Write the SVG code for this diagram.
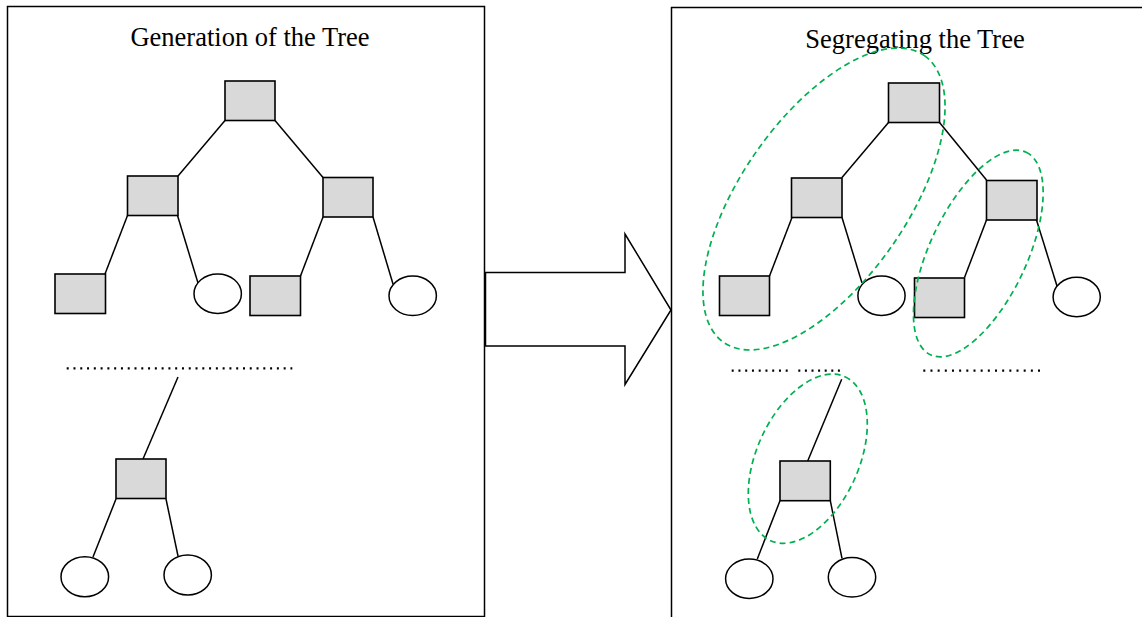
<svg xmlns="http://www.w3.org/2000/svg" width="1142" height="617" viewBox="0 0 1142 617">
  <style>
    .frame { fill: #ffffff; stroke: #000000; stroke-width: 1.5; }
    .sq { fill: #d9d9d9; stroke: #000000; stroke-width: 1.6; }
    .leaf { fill: #ffffff; stroke: #000000; stroke-width: 1.5; }
    .edge { stroke: #000000; stroke-width: 1.5; fill: none; }
    .dots { stroke: #000000; stroke-width: 2.2; fill: none; }
    .group { fill: none; stroke: #00b050; stroke-width: 1.7; stroke-dasharray: 6 4; }
    .title { font-family: "Liberation Serif", "Times New Roman", serif; font-size: 26.5px; fill: #000000; text-anchor: middle; }
  </style>

  <!-- panels -->
  <g id="panel-left">
    <rect class="frame" x="7.5" y="6.5" width="477" height="610"/>
    <text class="title" x="250" y="46">Generation of the Tree</text>
  </g>
  <g id="panel-right">
    <rect class="frame" x="671.5" y="7.5" width="490" height="620"/>
    <text class="title" x="915" y="48">Segregating the Tree</text>
  </g>

  <!-- block arrow between panels -->
  <g id="transition-arrow">
    <polygon class="frame" points="485.5,272.5 625,272.5 625,234 671,310 625,384.5 625,346 485.5,346"/>
  </g>

  <!-- connectors -->
  <g id="connectors">
    <!-- left tree -->
    <line class="edge" x1="225" y1="120.5" x2="178" y2="176"/>
    <line class="edge" x1="275" y1="120.5" x2="323" y2="177.5"/>
    <line class="edge" x1="127.5" y1="215.5" x2="105" y2="274"/>
    <line class="edge" x1="177.5" y1="215.5" x2="198" y2="283"/>
    <line class="edge" x1="323" y1="217" x2="300.5" y2="276"/>
    <line class="edge" x1="373" y1="217" x2="393" y2="284"/>
    <line class="edge" x1="178" y1="377" x2="143" y2="459"/>
    <line class="edge" x1="116" y1="499" x2="93" y2="557"/>
    <line class="edge" x1="166" y1="499" x2="178" y2="556"/>
    <!-- right tree -->
    <line class="edge" x1="888.5" y1="122.5" x2="842" y2="177.5"/>
    <line class="edge" x1="939.5" y1="122.5" x2="986.5" y2="180"/>
    <line class="edge" x1="792" y1="217.5" x2="769.5" y2="276"/>
    <line class="edge" x1="842" y1="217.5" x2="862" y2="283"/>
    <line class="edge" x1="986.5" y1="220" x2="964.5" y2="277.5"/>
    <line class="edge" x1="1036.5" y1="220" x2="1057" y2="286"/>
    <line class="edge" x1="841.7" y1="379.3" x2="807.7" y2="461"/>
    <line class="edge" x1="780" y1="500.7" x2="757.3" y2="559"/>
    <line class="edge" x1="830.3" y1="500.7" x2="842" y2="558.3"/>
  </g>

  <!-- elided levels -->
  <g id="ellipsis-left">
    <line class="dots" x1="66.7" y1="368.3" x2="292.3" y2="368.3" stroke-dasharray="2 4.78"/>
  </g>
  <g id="ellipsis-right">
    <line class="dots" x1="731.7" y1="370.7" x2="787.7" y2="370.7" stroke-dasharray="2 4.75"/>
    <line class="dots" x1="798.3" y1="370.7" x2="840" y2="370.7" stroke-dasharray="2 4.6"/>
    <line class="dots" x1="923.3" y1="370.7" x2="1040" y2="370.7" stroke-dasharray="2 5.17"/>
  </g>

  <!-- left tree nodes -->
  <g id="L-root"><rect class="sq" x="225" y="81" width="50" height="39.5"/></g>
  <g id="L-a"><rect class="sq" x="127.5" y="176" width="50.5" height="39.5"/></g>
  <g id="L-b"><rect class="sq" x="323" y="177.5" width="50" height="39.5"/></g>
  <g id="L-a1"><rect class="sq" x="55" y="274" width="50.5" height="39.5"/></g>
  <g id="L-a2"><ellipse class="leaf" cx="217.7" cy="293.7" rx="23.7" ry="19.7"/></g>
  <g id="L-b1"><rect class="sq" x="250" y="276" width="50.5" height="39.5"/></g>
  <g id="L-b2"><ellipse class="leaf" cx="412.7" cy="295.8" rx="23.7" ry="19.7"/></g>
  <g id="L-c"><rect class="sq" x="116" y="459" width="50" height="39.5"/></g>
  <g id="L-c1"><ellipse class="leaf" cx="84.8" cy="576.7" rx="23.8" ry="20"/></g>
  <g id="L-c2"><ellipse class="leaf" cx="187.7" cy="575" rx="23.7" ry="20"/></g>

  <!-- right tree nodes -->
  <g id="R-root"><rect class="sq" x="888.5" y="83" width="51" height="39.5"/></g>
  <g id="R-a"><rect class="sq" x="791.5" y="178" width="50.5" height="39.5"/></g>
  <g id="R-b"><rect class="sq" x="986.5" y="180.5" width="50.5" height="39.5"/></g>
  <g id="R-a1"><rect class="sq" x="719.5" y="276" width="50" height="39.5"/></g>
  <g id="R-a2"><ellipse class="leaf" cx="881.5" cy="295.7" rx="23.6" ry="19.7"/></g>
  <g id="R-b1"><rect class="sq" x="914.5" y="278" width="50" height="39.5"/></g>
  <g id="R-b2"><ellipse class="leaf" cx="1076.7" cy="297" rx="23.6" ry="19.7"/></g>
  <g id="R-c"><rect class="sq" x="780" y="461" width="50.3" height="39.7"/></g>
  <g id="R-c1"><ellipse class="leaf" cx="749.3" cy="578.7" rx="23.7" ry="19.7"/></g>
  <g id="R-c2"><ellipse class="leaf" cx="852" cy="577.3" rx="23.7" ry="19.7"/></g>

  <!-- subtree groupings -->
  <g id="segment-1"><ellipse class="group" cx="0" cy="0" rx="175" ry="82.6" transform="translate(824 199) rotate(-55)"/></g>
  <g id="segment-2"><ellipse class="group" cx="0" cy="0" rx="112" ry="48.4" transform="translate(978.3 253.5) rotate(-64.7)"/></g>
  <g id="segment-3"><ellipse class="group" cx="0" cy="0" rx="90" ry="51" transform="translate(807.8 458.7) rotate(-65.6)"/></g>
</svg>
